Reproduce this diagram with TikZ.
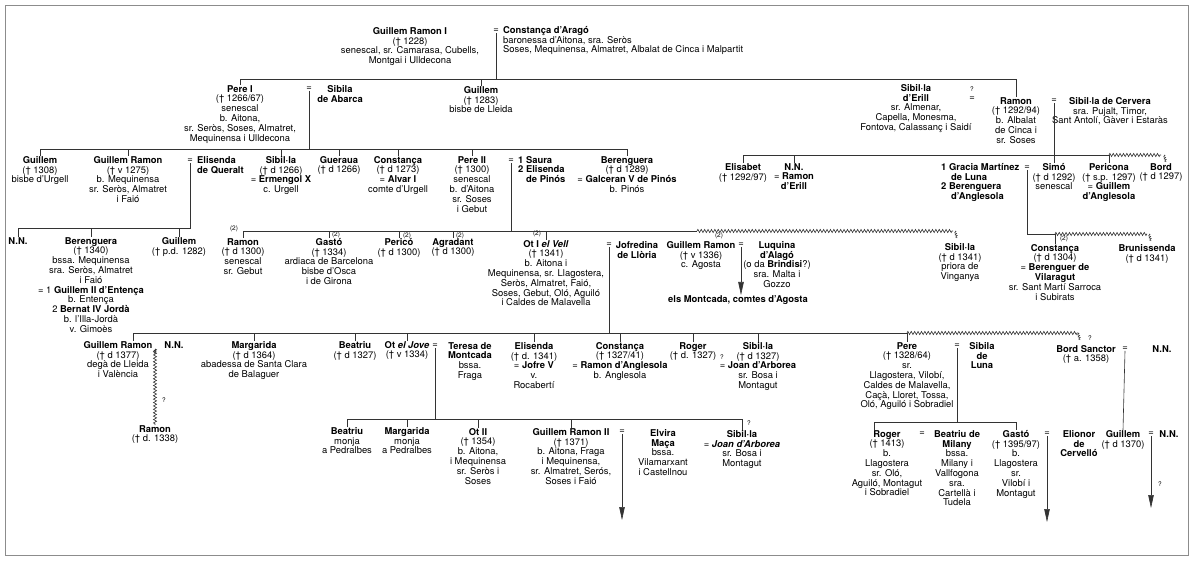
\documentclass[tikz,border=0pt]{standalone}
\usepackage{fontspec}
\setmainfont{TeX Gyre Heros}
\usetikzlibrary{arrows.meta,decorations.pathmorphing}

\newcommand{\nm}[1]{\textbf{#1}}
\newcommand{\arbrefont}{\fontsize{9.4}{9.8}\selectfont}

\tikzset{
  persona/.style={anchor=north, align=center, inner sep=0pt, font=\arbrefont},
  parella/.style={anchor=north west, align=left, inner sep=0pt, font=\arbrefont},
  igual/.style={inner sep=0pt, font=\arbrefont},
  nota/.style={inner sep=0pt, font=\fontsize{6.5}{7}\selectfont},
  linia/.style={line width=0.6pt, black!80},
  bastard/.style={linia, decorate, decoration={zigzag, segment length=3.4pt, amplitude=1.6pt}},
  fibranca/.style={line width=0.5pt, black!80, decorate, decoration={zigzag, segment length=2.2pt, amplitude=1pt}},
  descend/.style={linia, -{Triangle[length=13pt,width=5.5pt]}}
}

\begin{document}
\begin{tikzpicture}[x=1pt, y=-1pt]
    \useasboundingbox (0,0) rectangle (1200,564);

    % marc
    \draw[line width=0.8pt, black!45] (5,5) rectangle (1188,555);

    % Guillem Ramon I i Constança
    \node[persona] (gri) at (410,27) {\nm{Guillem Ramon I}\\(† 1228)\\senescal, sr. Camarasa, Cubells,\\Montgai i Ulldecona};
    \node[igual] (e0) at (496,31) {=};
    \node[parella] (cda) at (503,26) {\nm{Constança d'Aragó}\\baronessa d'Aitona, sra. Seròs\\Soses, Mequinensa, Almatret, Albalat de Cinca i Malpartit};
    \coordinate (bus1) at (0,79);

    % fills
    \node[persona] (pereI) at (240,85) {\nm{Pere I}\\(† 1266/67)\\senescal\\b. Aitona,\\sr. Seròs, Soses, Almatret,\\Mequinensa i Ulldecona};
    \node[igual] (e1) at (309,89) {=};
    \node[persona] (sibilaA) at (340,85) {\nm{Sibila}\\\nm{de Abarca}};
    \node[persona] (guillemB) at (481,86) {\nm{Guillem}\\(† 1283)\\bisbe de Lleida};
    \node[persona] (sibillaE) at (916,84) {\nm{Sibil·la}\\\nm{d'Erill}\\sr. Almenar,\\Capella, Monesma,\\Fontova, Calassanç i Saidí};
    \node[nota] (q1) at (972,89) {?};
    \node[igual] (e2) at (972,99) {=};
    \node[persona] (ramon) at (1016,97) {\nm{Ramon}\\(† 1292/94)\\b. Albalat\\de Cinca i\\sr. Soses};
    \node[igual] (e3) at (1054,101) {=};
    \node[persona] (sibillaC) at (1110,97) {\nm{Sibil·la de Cervera}\\sra. Pujalt, Timor,\\Sant Antolí, Gàver i Estaràs};

    \draw[linia] (e0.south) -- (e0.south |- bus1);
    \draw[linia] (pereI.north) -- (pereI.north |- bus1) -- (ramon.north |- bus1) -- (ramon.north);
    \draw[linia] (guillemB.north) -- (guillemB.north |- bus1);

    % fills de Pere I
    \coordinate (bus2) at (0,149);
    \node[persona] (guillemU) at (40,156) {\nm{Guillem}\\(† 1308)\\bisbe d'Urgell};
    \node[persona] (guillemR) at (128,156) {\nm{Guillem Ramon}\\(† v 1275)\\b. Mequinensa\\sr. Seròs, Almatret\\i Faió};
    \node[igual] (e4) at (190,161) {=};
    \node[parella] (elisendaQ) at (197,156) {\nm{Elisenda}\\\nm{de Queralt}};
    \node[persona] (sibillaU) at (281,156) {\nm{Sibil·la}\\(† d 1266)\\= \nm{Ermengol X}\\c. Urgell};
    \node[persona] (gueraua) at (339,156) {\nm{Gueraua}\\(† d 1266)};
    \node[persona] (constancaU) at (398,156) {\nm{Constança}\\(† d 1273)\\= \nm{Alvar I}\\comte d'Urgell};
    \node[persona] (pereII) at (472,156) {\nm{Pere II}\\(† 1300)\\senescal\\b. d'Aitona\\sr. Soses\\i Gebut};
    \node[igual] (e5) at (511,161) {=};
    \node[parella] (saura) at (518,156) {\nm{1 Saura}\\\nm{2 Elisenda}\\\hspace*{8pt}\nm{de Pinós}};
    \node[persona] (berengueraP) at (627,156) {\nm{Berenguera}\\(† d 1289)\\= \nm{Galceran V de Pinós}\\b. Pinós};

    \draw[linia] (e1.south) -- (e1.south |- bus2);
    \draw[linia] (guillemU.north) -- (guillemU.north |- bus2) -- (berengueraP.north |- bus2) -- (berengueraP.north);
    \foreach \n in {guillemR,sibillaU,gueraua,constancaU,pereII}
      \draw[linia] (\n.north) -- (\n.north |- bus2);

    % fills de Ramon
    \coordinate (bus2r) at (0,155);
    \node[persona] (elisabet) at (743,163) {\nm{Elisabet}\\(† 1292/97)};
    \node[persona] (nnE) at (794,163) {\nm{N.N.}\\= \nm{Ramon}\\\nm{d'Erill}};
    \node[parella] (gracia) at (941,163) {\nm{1 Gracia Martínez}\\\hspace*{10pt}\nm{de Luna}\\\nm{2 Berenguera}\\\hspace*{10pt}\nm{d'Anglesola}};
    \node[igual] (e6) at (1027,168) {=};
    \node[persona] (simo) at (1054,163) {\nm{Simó}\\(† d 1292)\\senescal};
    \node[persona] (pericona) at (1109,163) {\nm{Pericona}\\(† s.p. 1297)\\= \nm{Guillem}\\\nm{d'Anglesola}};
    \node[persona] (bord) at (1161,163) {\nm{Bord}\\(† d 1297)};

    \draw[linia] (elisabet.north) -- (elisabet.north |- bus2r) -- (pericona.north |- bus2r) -- (pericona.north);
    \draw[linia] (nnE.north) -- (nnE.north |- bus2r);
    \draw[bastard] (pericona.north |- bus2r) -- (bord.north |- bus2r);
    \draw[fibranca] ([xshift=3pt]bord.north |- bus2r) -- ++(2,7);
    \draw[linia] (e3.south) -- (simo.north);

    % fills de Guillem Ramon i Elisenda
    \coordinate (bus3l) at (0,228);
    \node[persona] (nnL) at (18,237) {\nm{N.N.}};
    \node[persona] (berengueraE) at (91,237) {\nm{Berenguera}\\(† 1340)\\bssa. Mequinensa\\sra. Seròs, Almatret\\i Faió\\= 1 \nm{Guillem II d'Entença}\\b. Entença\\2 \nm{Bernat IV Jordà}\\b. l'Illa-Jordà\\v. Gimoès};
    \node[persona] (guillemPD) at (179,237) {\nm{Guillem}\\(† p.d. 1282)};

    \draw[linia] (e4.south) -- (e4.south |- bus3l) -- (nnL.north |- bus3l) -- (nnL.north);
    \foreach \n in {berengueraE,guillemPD}
      \draw[linia] (\n.north) -- (\n.north |- bus3l);

    % fills de Pere II
    \coordinate (bus3) at (0,231);
    \coordinate (zz3) at (697,231);
    \node[persona] (ramonG) at (243,238) {\nm{Ramon}\\(† d 1300)\\senescal\\sr. Gebut};
    \node[persona] (gasto) at (329,238) {\nm{Gastó}\\(† 1334)\\ardiaca de Barcelona\\bisbe d'Osca\\i de Girona};
    \node[persona] (perico) at (399,238) {\nm{Pericó}\\(† d 1300)};
    \node[persona] (agradant) at (453,238) {\nm{Agradant}\\(† d 1300)};
    \node[persona] (otI) at (546,240) {\nm{Ot I \textit{el Vell}}\\(† 1341)\\b. Aitona i\\Mequinensa, sr. Llagostera,\\Seròs, Almatret, Faió,\\Soses, Gebut, Oló, Aguiló\\i Caldes de Malavella};
    \node[igual] (e7) at (609,245) {=};
    \node[persona] (jofredina) at (637,241) {\nm{Jofredina}\\\nm{de Llòria}};
    \node[persona] (guillemA) at (701,241) {\nm{Guillem Ramon}\\(† v 1336)\\c. Agosta};
    \node[igual] (e8) at (741,245) {=};
    \node[persona] (luquina) at (777,241) {\nm{Luquina}\\\nm{d'Alagó}\\(o da \nm{Brindisi}?)\\sra. Malta i\\Gozzo};
    \node[persona] (montcada) at (738,295) {\nm{els Montcada, comtes d'Agosta}};
    \node[persona] (sibillaV) at (960,243) {\nm{Sibil·la}\\(† d 1341)\\priora de\\Vinganya};
    \node[nota] (d1) at (234,229) {(2)};
    \node[nota] (d2) at (336,235) {(2)};
    \node[nota] (d3) at (407,236) {(2)};
    \node[nota] (d4) at (460,236) {(2)};
    \node[nota] (d5) at (537,234) {(2)};
    \node[nota] (d6) at (719,236) {(2)};

    \draw[linia] (e5.south) -- (e5.south |- bus3);
    \draw[linia] (ramonG.north) -- (ramonG.north |- bus3) -- (zz3);
    \foreach \n in {gasto,perico,agradant,otI}
      \draw[linia] (\n.north) -- (\n.north |- bus3);
    \draw[bastard] (zz3) -- ([xshift=-7pt]sibillaV.north |- bus3);
    \draw[fibranca] ([xshift=-5pt]sibillaV.north |- bus3) -- ++(2,7);
    \draw[descend] (e8.south) -- (e8.south |- montcada.north);

    % fills de Simó
    \coordinate (bus3r) at (0,234);
    \node[persona] (constancaV) at (1055,244) {\nm{Constança}\\(† d 1304)\\= \nm{Berenguer de}\\\nm{Vilaragut}\\sr. Sant Martí Sarroca\\i Subirats};
    \node[persona] (brunissenda) at (1147,244) {\nm{Brunissenda}\\(† d 1341)};
    \node[nota] (d7) at (1064,239) {(2)};

    \draw[linia] (e6.south) -- (e6.south |- bus3r) -- (constancaV.north |- bus3r) -- (constancaV.north);
    \draw[bastard] (constancaV.north |- bus3r) -- (brunissenda.north |- bus3r);
    \draw[fibranca] ([xshift=2pt]brunissenda.north |- bus3r) -- ++(2,7);

    % fills de Ot I el Vell
    \coordinate (bus4) at (0,333);
    \coordinate (zz4) at (1078,333);
    \node[persona] (guillemD) at (118,341) {\nm{Guillem Ramon}\\(† d 1377)\\degà de Lleida\\i València};
    \node[persona] (nnD) at (174,341) {\nm{N.N.}};
    \coordinate (nnDlink) at (155,349);
    \node[nota] (q2) at (164,400) {?};
    \node[persona] (ramonD) at (155,425) {\nm{Ramon}\\(† d. 1338)};
    \node[persona] (margaridaA) at (254,341) {\nm{Margarida}\\(† d 1364)\\abadessa de Santa Clara\\de Balaguer};
    \node[persona] (beatriuD) at (355,341) {\nm{Beatriu}\\(† d 1327)};
    \node[persona] (otJ) at (407,341) {\nm{Ot \textit{el Jove}}\\(† v 1334)};
    \node[igual] (e9) at (435,346) {=};
    \node[persona] (teresa) at (470,342) {\nm{Teresa de}\\\nm{Montcada}\\bssa.\\Fraga};
    \node[persona] (elisendaR) at (534,342) {\nm{Elisenda}\\(† d. 1341)\\= \nm{Jofre V}\\v.\\Rocabertí};
    \node[persona] (constancaA) at (620,342) {\nm{Constança}\\(† 1327/41)\\= \nm{Ramon d'Anglesola}\\b. Anglesola};
    \node[persona] (roger) at (693,342) {\nm{Roger}\\(† d. 1327)};
    \node[nota] (q3) at (722,357) {?};
    \node[persona] (sibillaJ) at (758,342) {\nm{Sibil·la}\\(† d 1327)\\= \nm{Joan d'Arborea}\\sr. Bosa i\\Montagut};
    \node[persona] (pereL) at (907,342) {\nm{Pere}\\(† 1328/64)\\sr.\\Llagostera, Vilobí,\\Caldes de Malavella,\\Caçà, Lloret, Tossa,\\Oló, Aguiló i Sobradiel};
    \node[igual] (e10) at (957,346) {=};
    \node[persona] (sibilaL) at (982,342) {\nm{Sibila}\\\nm{de}\\\nm{Luna}};
    \node[nota] (q4) at (1090,338) {?};
    \node[persona] (bordS) at (1086,345) {\nm{Bord Sanctor}\\(† a. 1358)};
    \node[igual] (e11) at (1125,349) {=};
    \node[persona] (nnB) at (1162,345) {\nm{N.N.}};

    \draw[linia] (e7.south) -- (e7.south |- bus4);
    \draw[linia] ([xshift=15pt]guillemD.north) -- ([xshift=15pt]guillemD.north |- bus4) -- (pereL.north |- bus4) -- (pereL.north);
    \foreach \n in {margaridaA,beatriuD,otJ,elisendaR,constancaA,roger,sibillaJ}
      \draw[linia] (\n.north) -- (\n.north |- bus4);
    \draw[bastard] (pereL.north |- bus4) -- (zz4);
    \draw[fibranca] (zz4) -- ++(2,7);
    \draw[fibranca] (nnDlink) -- ++(0,5);
    \draw[bastard] (nnDlink) -- (ramonD.north);

    % fills de Ot el Jove
    \coordinate (bus5) at (0,419);
    \node[persona] (beatriuM) at (347,427) {\nm{Beatriu}\\monja\\a Pedralbes};
    \node[persona] (margaridaM) at (407,427) {\nm{Margarida}\\monja\\a Pedralbes};
    \node[persona] (otII) at (478,428) {\nm{Ot II}\\(† 1354)\\b. Aitona,\\i Mequinensa\\sr. Seròs i\\Soses};
    \node[persona] (guillemRII) at (571,428) {\nm{Guillem Ramon II}\\(† 1371)\\b. Aitona, Fraga\\i Mequinensa,\\sr. Almatret, Serós,\\Soses i Faió};
    \node[igual] (e12) at (622,432) {=};
    \coordinate (fi12) at (622,520);
    \node[persona] (elvira) at (663,429) {\nm{Elvira}\\\nm{Maça}\\bssa.\\Vilamarxant\\i Castellnou};
    \node[persona] (sibillaA) at (742,430) {\nm{Sibil·la}\\= \nm{\textit{Joan d'Arborea}}\\sr. Bosa i\\Montagut};
    \node[nota] (q5) at (749,423) {?};

    \draw[linia] (e9.south) -- (e9.south |- bus5);
    \draw[linia] (beatriuM.north) -- (beatriuM.north |- bus5) -- (sibillaA.north |- bus5) -- (sibillaA.north);
    \foreach \n in {margaridaM,otII,guillemRII}
      \draw[linia] (\n.north) -- (\n.north |- bus5);
    \draw[descend] (e12.south) -- (fi12);

    % fills de Pere i Sibila de Luna
    \coordinate (bus5r) at (0,422);
    \node[persona] (rogerL) at (887,430) {\nm{Roger}\\(† 1413)\\b.\\Llagostera\\sr. Oló,\\Aguiló, Montagut\\i Sobradiel};
    \node[igual] (e13) at (922,434) {=};
    \node[persona] (beatriuL) at (957,430) {\nm{Beatriu de}\\\nm{Milany}\\bssa.\\Milany i\\Vallfogona\\sra.\\Cartellà i\\Tudela};
    \node[persona] (gastoL) at (1016,430) {\nm{Gastó}\\(† 1395/97)\\b.\\Llagostera\\sr.\\Vilobí i\\Montagut};
    \node[igual] (e14) at (1047,434) {=};
    \coordinate (fi14) at (1047,522);
    \node[persona] (elionor) at (1079,430) {\nm{Elionor}\\\nm{de}\\\nm{Cervelló}};
    \node[persona] (guillemL) at (1123,430) {\nm{Guillem}\\(† d 1370)};
    \node[igual] (e15) at (1151,434) {=};
    \coordinate (fi15) at (1151,508);
    \node[nota] (q6) at (1160,484) {?};
    \node[persona] (nnG) at (1169,430) {\nm{N.N.}};

    \draw[linia] (e10.south) -- (e10.south |- bus5r);
    \draw[linia] ([xshift=-13pt]rogerL.north) -- ([xshift=-13pt]rogerL.north |- bus5r) -- (gastoL.north |- bus5r) -- (gastoL.north);
    \draw[linia] (e11.south) -- (guillemL.north);
    \draw[descend] (e14.south) -- (fi14);
    \draw[descend] (e15.south) -- (fi15);
\end{tikzpicture}
\end{document}
